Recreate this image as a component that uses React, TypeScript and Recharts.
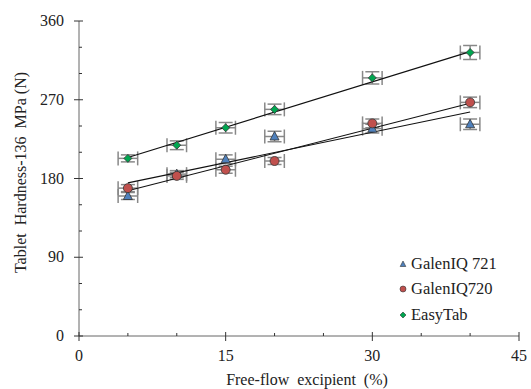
import React from 'react';
import { ScatterChart, Scatter, XAxis, YAxis, ErrorBar } from 'recharts';

// excipient level (%)
const excipient = [5, 10, 15, 20, 30, 40];

// tablet hardness (N)
const galen721 = [160, 185, 202, 228, 237, 242];
const galen720 = [169, 183, 190, 200, 243, 267];
const easyTab = [203, 218, 238, 259, 295, 324];

// y error half-widths
const galen721Err = [4, 4, 5, 6, 5, 6];
const galen720Err = [4, 4, 4, 4, 5, 6];
const easyTabErr = [4, 5, 6, 6, 7, 8];
const xErr = [1, 1, 1, 1, 1, 1];

// trend line end points (x = 5 and x = 40)
const trendX = [5, 40];
const galen721Trend = [175, 256];
const galen720Trend = [166, 266];
const easyTabTrend = [204, 325];

const xTicks = [0, 5, 10, 15, 20, 25, 30, 35, 40, 45];
const yTicks = [0, 30, 60, 90, 120, 150, 180, 210, 240, 270, 300, 330, 360];

const FONT = '"Liberation Serif", serif';

const pts = (ys: number[], errs: number[]) =>
  excipient.map((x, i) => ({ x, y: ys[i], ey: errs[i], ex: xErr[i] }));
const trend = (ys: number[]) => trendX.map((x, i) => ({ x, y: ys[i] }));

const Triangle = ({ cx, cy }: any) => (
  <polygon
    points={`${cx},${cy - 5} ${cx + 4.5},${cy + 3.5} ${cx - 4.5},${cy + 3.5}`}
    fill="#4f81bd"
    stroke="#333"
    strokeWidth={0.8}
  />
);
const Circle = ({ cx, cy }: any) => (
  <circle cx={cx} cy={cy} r={4.5} fill="#c0504d" stroke="#333" strokeWidth={0.8} />
);
const Diamond = ({ cx, cy }: any) => (
  <polygon
    points={`${cx},${cy - 4} ${cx + 4},${cy} ${cx},${cy + 4} ${cx - 4},${cy}`}
    fill="#00a650"
    stroke="#333"
    strokeWidth={0.8}
  />
);

const XTick = ({ x, y, payload }: any) => {
  const major = payload.value % 15 === 0;
  return (
    <g>
      <line x1={x} x2={x} y1={major ? y - 4 : y - 3} y2={major ? y + 5 : y} stroke="#333" />
      {major && (
        <text x={x} y={y + 25} textAnchor="middle" fontFamily={FONT} fontSize={16} fill="#222">
          {payload.value}
        </text>
      )}
    </g>
  );
};

const YTick = ({ x, y, payload }: any) => {
  const major = payload.value % 90 === 0;
  return (
    <g>
      <line x1={major ? x - 5 : x} x2={major ? x + 4 : x + 3} y1={y} y2={y} stroke="#333" />
      {major && (
        <text x={x - 15} y={y + 5} textAnchor="end" fontFamily={FONT} fontSize={16} fill="#222">
          {payload.value}
        </text>
      )}
    </g>
  );
};

const legendItems = [
  { name: 'GalenIQ 721', color: '#4f81bd', kind: 'tri' },
  { name: 'GalenIQ720', color: '#c0504d', kind: 'circ' },
  { name: 'EasyTab', color: '#00a650', kind: 'dia' },
];

const LegendBox = () => (
  <div style={{ position: 'absolute', left: 398, top: 251, fontFamily: FONT, fontSize: 16.5, color: '#222' }}>
    {legendItems.map((it) => (
      <div key={it.name} style={{ display: 'flex', alignItems: 'center', height: 25.5 }}>
        <svg width={10} height={10} style={{ marginRight: 3 }}>
          {it.kind === 'tri' && <polygon points="5,2 7.8,7.5 2.2,7.5" fill={it.color} stroke="#333" strokeWidth={0.6} />}
          {it.kind === 'circ' && <circle cx={5} cy={5} r={3} fill={it.color} stroke="#333" strokeWidth={0.6} />}
          {it.kind === 'dia' && <polygon points="5,2 8,5 5,8 2,5" fill={it.color} stroke="#333" strokeWidth={0.6} />}
        </svg>
        <span>{it.name}</span>
      </div>
    ))}
  </div>
);

const YLabel = ({ viewBox }: any) => {
  const cx = viewBox.x + 20;
  const cy = viewBox.y + viewBox.height / 2 - 6;
  return (
    <text
      x={cx}
      y={cy}
      transform={`rotate(-90, ${cx}, ${cy})`}
      textAnchor="middle"
      dominantBaseline="central"
      fontFamily={FONT}
      fontSize={16}
      fill="#222"
      style={{ whiteSpace: 'pre' }}
    >
      {'Tablet  Hardness-136  MPa (N)'}
    </text>
  );
};

const XLabel = ({ viewBox }: any) => (
  <text
    x={viewBox.x + viewBox.width / 2 + 8}
    y={viewBox.y + 49}
    textAnchor="middle"
    fontFamily={FONT}
    fontSize={16}
    fill="#222"
    style={{ whiteSpace: 'pre' }}
  >
    {'Free-flow  excipient  (%)'}
  </text>
);

const App = () => {
  return (
    <div style={{ position: 'absolute', left: 0, top: 0, width: 531, height: 389, background: '#fff' }}>
      <ScatterChart width={531} height={389} margin={{ top: 21, right: 12, bottom: 0, left: 0 }}>
        <XAxis
          type="number"
          dataKey="x"
          domain={[0, 45]}
          ticks={xTicks}
          interval={0}
          tickSize={0}
          tickMargin={0}
          tickLine={false}
          tick={<XTick />}
          height={53}
          stroke="#666"
          label={<XLabel />}
        />
        <YAxis
          type="number"
          dataKey="y"
          domain={[0, 360]}
          ticks={yTicks}
          interval={0}
          tickSize={0}
          tickMargin={0}
          tickLine={false}
          tick={<YTick />}
          width={79}
          stroke="#666"
          label={<YLabel />}
        />
        <Scatter data={trend(galen721Trend)} line={{ stroke: '#111', strokeWidth: 1.2 }} shape={() => null} legendType="none" isAnimationActive={false} />
        <Scatter data={trend(galen720Trend)} line={{ stroke: '#111', strokeWidth: 1.2 }} shape={() => null} legendType="none" isAnimationActive={false} />
        <Scatter data={trend(easyTabTrend)} line={{ stroke: '#111', strokeWidth: 1.2 }} shape={() => null} legendType="none" isAnimationActive={false} />
        <Scatter name="GalenIQ 721" data={pts(galen721, galen721Err)} shape={<Triangle />} isAnimationActive={false}>
          <ErrorBar dataKey="ey" direction="y" width={7} stroke="#888" isAnimationActive={false} />
          <ErrorBar dataKey="ex" direction="x" width={7} stroke="#888" isAnimationActive={false} />
        </Scatter>
        <Scatter name="GalenIQ720" data={pts(galen720, galen720Err)} shape={<Circle />} isAnimationActive={false}>
          <ErrorBar dataKey="ey" direction="y" width={7} stroke="#888" isAnimationActive={false} />
          <ErrorBar dataKey="ex" direction="x" width={7} stroke="#888" isAnimationActive={false} />
        </Scatter>
        <Scatter name="EasyTab" data={pts(easyTab, easyTabErr)} shape={<Diamond />} isAnimationActive={false}>
          <ErrorBar dataKey="ey" direction="y" width={7} stroke="#888" isAnimationActive={false} />
          <ErrorBar dataKey="ex" direction="x" width={7} stroke="#888" isAnimationActive={false} />
        </Scatter>
      </ScatterChart>
      <LegendBox />
    </div>
  );
};

export default App;
